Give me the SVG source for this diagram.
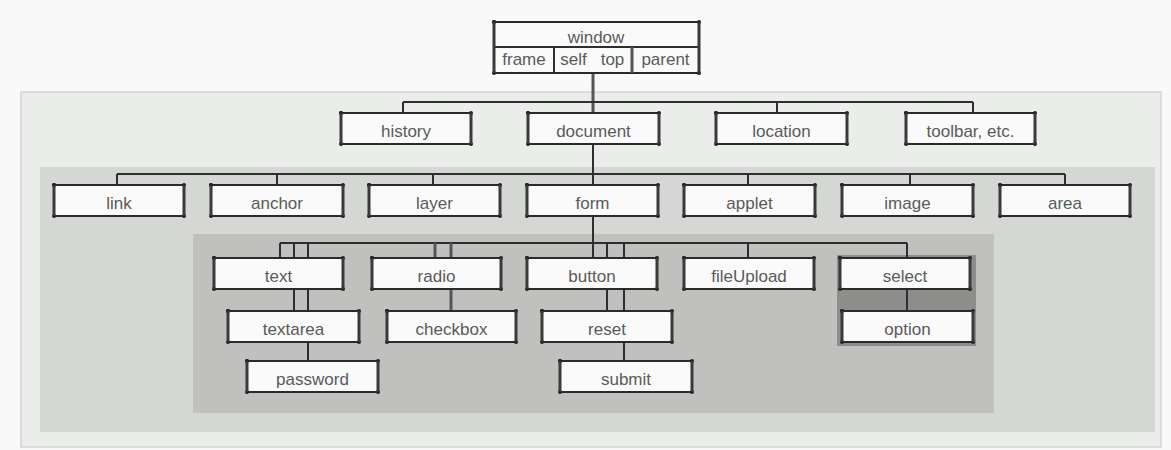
<svg xmlns="http://www.w3.org/2000/svg" width="1171" height="450" viewBox="0 0 1171 450">
<style>
  .bg{fill:#f8f9f8}
  .p1{fill:#ebedeb;stroke:#d2d4d2;stroke-width:1.5}
  .p2{fill:#d5d7d5}
  .p3{fill:#c0c1bf}
  .dark{fill:#8d8e8c}
  .box{fill:#f9faf9;stroke:#2a2a2a;stroke-width:2;marker-start:url(#dot);marker-mid:url(#dot);marker-end:url(#dot)}
  .side{stroke:#3a3a3a;stroke-width:3;fill:none}
  .c{stroke:#2e2e2e;stroke-width:2;fill:none}
  .cg{stroke:#555;stroke-width:3;fill:none}
  text{font-family:"Liberation Sans",Arial,sans-serif;font-size:17px;fill:#5a5a5a;text-anchor:middle}
</style>
<defs>
  <marker id="dot" markerUnits="userSpaceOnUse" markerWidth="6" markerHeight="6" refX="3" refY="3">
    <circle cx="3" cy="3" r="2" fill="#222"/>
  </marker>
</defs>
<rect class="bg" x="0" y="0" width="1171" height="450"/>
<rect class="p1" x="21" y="92" width="1140" height="355"/>
<rect class="p2" x="40" y="167" width="1115" height="265"/>
<rect class="p3" x="193" y="234" width="801" height="179"/>
<rect class="dark" x="837" y="255" width="139" height="91"/>

<g id="connectors">
  <path class="cg" d="M593 73V113"/>
  <path class="c" d="M403 102H973M403 102V113M777 102V113M973 102V113"/>
  <path class="c" d="M593 144V185"/>
  <path class="c" d="M117 174H1065M117 174V185M277 174V185M433 174V185M748 174V185M910 174V185M1065 174V185"/>
  <path class="c" d="M593 216V258"/>
  <path class="c" d="M280 243H907M280 243V258M294 243V258M308 243V258M607 243V258M624 243V258M748 243V258M907 243V258"/>
  <path class="cg" d="M435 243V258M451 243V258"/>
  <path class="c" d="M294 289V311M308 289V311M607 289V311M624 289V311M907 289V311"/>
  <path class="cg" d="M451 289V311"/>
  <path class="c" d="M308 342V361M624 342V361"/>
</g>

<g id="n-window">
  <path class="box" d="M494 22H699V73H494Z"/>
  <path class="c" d="M494 47H699M554 47V73"/>
  <path class="cg" d="M632 47V73"/>
  <path class="side" d="M494 22V73M699 22V73"/>
  <text x="596" y="43">window</text>
  <text x="524" y="65">frame</text>
  <text x="573.5" y="65">self</text>
  <text x="612.5" y="65">top</text>
  <text x="665.5" y="65">parent</text>
</g>

<g id="n-history"><path class="box" d="M341 113H471V144H341Z"/><path class="side" d="M341 113V144M471 113V144"/><text x="406" y="137">history</text></g>
<g id="n-document"><path class="box" d="M528 113H659V144H528Z"/><path class="side" d="M528 113V144M659 113V144"/><text x="593.5" y="137">document</text></g>
<g id="n-location"><path class="box" d="M716 113H847V144H716Z"/><path class="side" d="M716 113V144M847 113V144"/><text x="781.5" y="137">location</text></g>
<g id="n-toolbar"><path class="box" d="M906 113H1035V144H906Z"/><path class="side" d="M906 113V144M1035 113V144"/><text x="970.5" y="137">toolbar, etc.</text></g>

<g id="n-link"><path class="box" d="M54 185H184V216H54Z"/><path class="side" d="M54 185V216M184 185V216"/><text x="119" y="209">link</text></g>
<g id="n-anchor"><path class="box" d="M211 185H343V216H211Z"/><path class="side" d="M211 185V216M343 185V216"/><text x="277" y="209">anchor</text></g>
<g id="n-layer"><path class="box" d="M369 185H500V216H369Z"/><path class="side" d="M369 185V216M500 185V216"/><text x="434.5" y="209">layer</text></g>
<g id="n-form"><path class="box" d="M527 185H658V216H527Z"/><path class="side" d="M527 185V216M658 185V216"/><text x="592.5" y="209">form</text></g>
<g id="n-applet"><path class="box" d="M684 185H815V216H684Z"/><path class="side" d="M684 185V216M815 185V216"/><text x="749.5" y="209">applet</text></g>
<g id="n-image"><path class="box" d="M842 185H973V216H842Z"/><path class="side" d="M842 185V216M973 185V216"/><text x="907.5" y="209">image</text></g>
<g id="n-area"><path class="box" d="M1000 185H1130V216H1000Z"/><path class="side" d="M1000 185V216M1130 185V216"/><text x="1065" y="209">area</text></g>

<g id="n-text"><path class="box" d="M214 258H343V289H214Z"/><path class="side" d="M214 258V289M343 258V289"/><text x="278.5" y="282">text</text></g>
<g id="n-radio"><path class="box" d="M372 258H501V289H372Z"/><path class="side" d="M372 258V289M501 258V289"/><text x="436.5" y="282">radio</text></g>
<g id="n-button"><path class="box" d="M527 258H657V289H527Z"/><path class="side" d="M527 258V289M657 258V289"/><text x="592" y="282">button</text></g>
<g id="n-fileUpload"><path class="box" d="M684 258H814V289H684Z"/><path class="side" d="M684 258V289M814 258V289"/><text x="749" y="282">fileUpload</text></g>
<g id="n-select"><path class="box" d="M840 258H970V289H840Z"/><path class="side" d="M840 258V289M970 258V289"/><text x="905" y="282">select</text></g>

<g id="n-textarea"><path class="box" d="M228 311H359V342H228Z"/><path class="side" d="M228 311V342M359 311V342"/><text x="293.5" y="335">textarea</text></g>
<g id="n-checkbox"><path class="box" d="M387 311H516V342H387Z"/><path class="side" d="M387 311V342M516 311V342"/><text x="451.5" y="335">checkbox</text></g>
<g id="n-reset"><path class="box" d="M542 311H672V342H542Z"/><path class="side" d="M542 311V342M672 311V342"/><text x="607" y="335">reset</text></g>
<g id="n-option"><path class="box" d="M842 311H973V342H842Z"/><path class="side" d="M842 311V342M973 311V342"/><text x="907.5" y="335">option</text></g>

<g id="n-password"><path class="box" d="M247 361H378V392H247Z"/><path class="side" d="M247 361V392M378 361V392"/><text x="312.5" y="385">password</text></g>
<g id="n-submit"><path class="box" d="M560 361H692V392H560Z"/><path class="side" d="M560 361V392M692 361V392"/><text x="626" y="385">submit</text></g>
</svg>
